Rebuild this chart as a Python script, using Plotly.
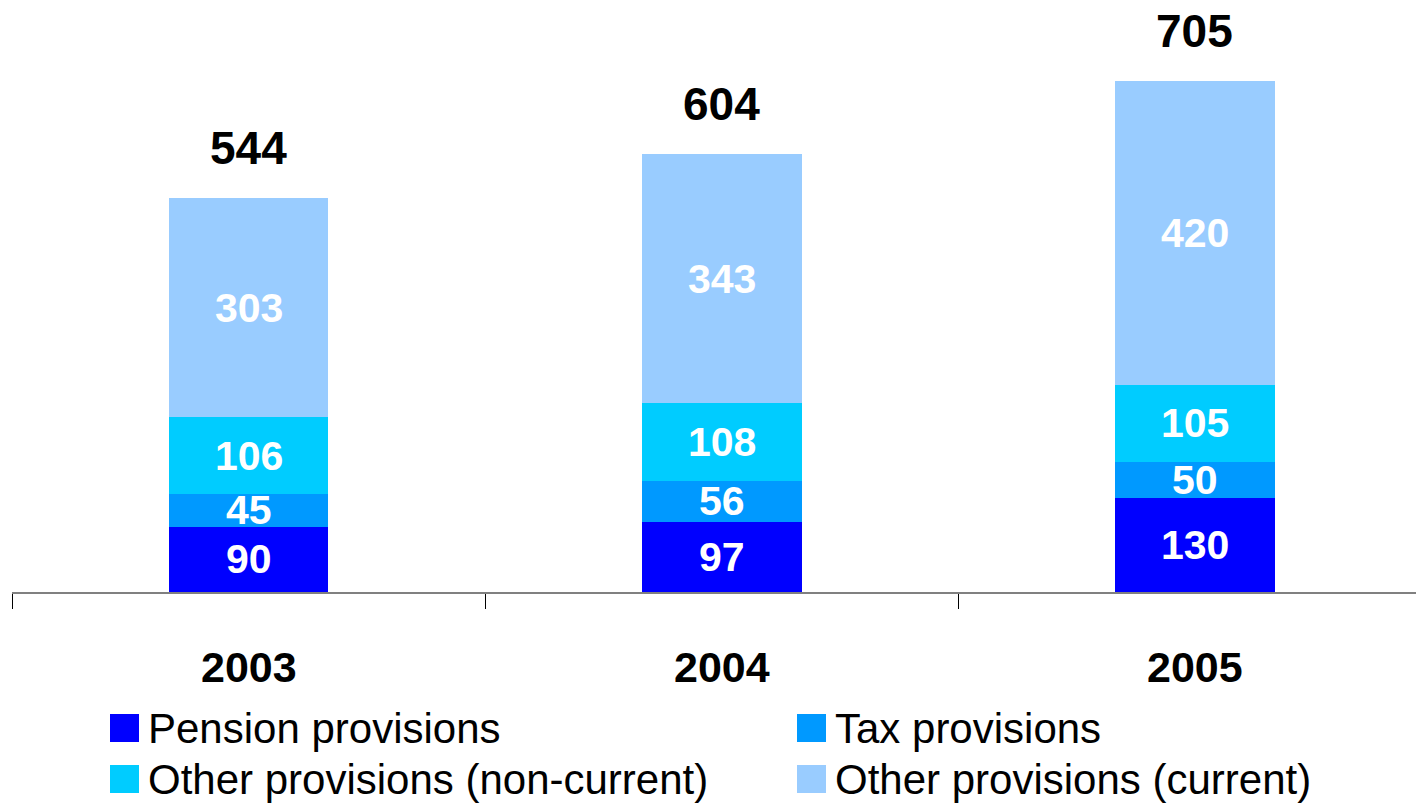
import plotly.graph_objects as go

# Provisions by year (stacked components)
years = ["2003", "2004", "2005"]
pension = [90, 97, 130]
tax = [45, 56, 50]
other_noncurrent = [106, 108, 105]
other_current = [303, 343, 420]
totals = [544, 604, 705]

series_names = [
    "Pension provisions",
    "Tax provisions",
    "Other provisions (non-current)",
    "Other provisions (current)",
]
series_values = [pension, tax, other_noncurrent, other_current]
colors = ["#0000FF", "#0099FF", "#00CCFF", "#99CCFF"]

FONT = "Liberation Sans, Arial, sans-serif"

fig = go.Figure()
for name, vals, col in zip(series_names, series_values, colors):
    fig.add_trace(go.Bar(
        x=years, y=vals, name=name,
        marker=dict(color=col, line=dict(width=0)),
        width=0.338, showlegend=False, hoverinfo="x+y+name",
    ))

annotations = []
# white value labels centred in each segment (x given as category index)
base = [0] * len(years)
for vals in series_values:
    for i, v in enumerate(vals):
        annotations.append(dict(
            x=i, y=base[i] + v / 2, xref="x", yref="y",
            text=f"<b>{v}</b>", showarrow=False,
            font=dict(family=FONT, size=41, color="white"),
            xanchor="center", yanchor="middle",
        ))
        base[i] += v

# totals above the bars
for i, t in enumerate(totals):
    annotations.append(dict(
        x=i, y=t, xref="x", yref="y",
        text=f"<b>{t}</b>", showarrow=False,
        font=dict(family=FONT, size=46, color="black"),
        xanchor="center", yanchor="middle", yshift=50,
    ))

# year labels under the axis
for i, yr in enumerate(years):
    annotations.append(dict(
        x=i, y=0, xref="x", yref="y",
        text=f"<b>{yr}</b>", showarrow=False,
        font=dict(family=FONT, size=43, color="black"),
        xanchor="center", yanchor="middle", yshift=-75,
    ))

# legend drawn as two columns of coloured squares with labels;
# paper coords: plot area spans x 12..1416 and y 0..592 in pixels
W, H = 1416, 803
PL, PW, PH = 12, 1404, 592
shapes = []
legend_cols = [110, 797]
legend_rows = [728, 779]
for k, (name, col) in enumerate(zip(series_names, colors)):
    cx = legend_cols[k % 2]
    cy = legend_rows[k // 2]
    px0, px1 = cx, cx + 29
    py0, py1 = cy - 14, cy + 14
    shapes.append(dict(
        type="rect", xref="paper", yref="paper",
        x0=(px0 - PL) / PW, x1=(px1 - PL) / PW,
        y0=(PH - py1) / PH, y1=(PH - py0) / PH,
        fillcolor=col, line=dict(width=0),
    ))
    annotations.append(dict(
        x=(px1 + 7 - PL) / PW, y=(PH - cy) / PH,
        xref="paper", yref="paper", text=name, showarrow=False,
        font=dict(family=FONT, size=42, color="black"),
        xanchor="left", yanchor="middle",
    ))

fig.update_layout(
    width=W, height=H,
    margin=dict(l=PL, r=0, t=0, b=H - PH),
    barmode="stack",
    plot_bgcolor="white", paper_bgcolor="white",
    xaxis=dict(
        type="category", range=[-0.5, 2.468],
        showticklabels=False, showgrid=False,
        showline=True, linecolor="#808080", linewidth=2,
        ticks="outside", tickson="boundaries", ticklen=15,
        tickcolor="black", tickwidth=1,
    ),
    yaxis=dict(
        range=[0, 816.8], visible=False, showgrid=False, zeroline=False,
    ),
    annotations=annotations,
    shapes=shapes,
    showlegend=False,
)

fig.write_html("out.html")
